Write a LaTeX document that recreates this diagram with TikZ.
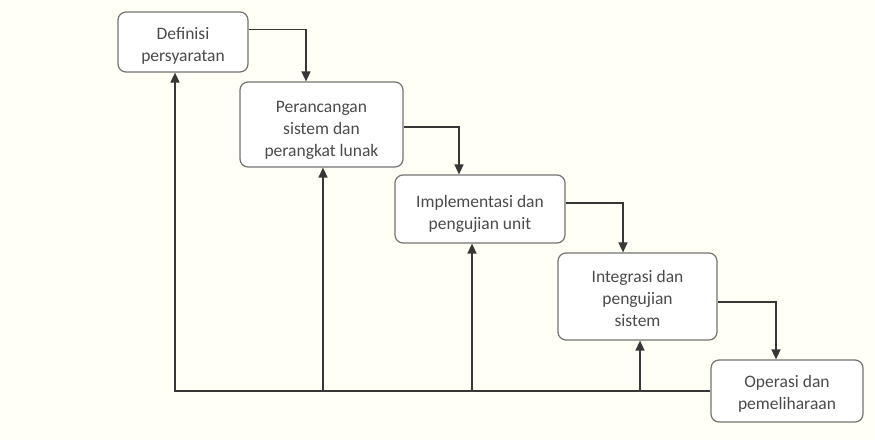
\documentclass[tikz,border=0pt]{standalone}
\usepackage{fontspec}
\setmainfont{Carlito}
\usetikzlibrary{arrows.meta}
\definecolor{paper}{RGB}{255,255,246}
\definecolor{boxline}{RGB}{115,115,115}
\definecolor{txt}{RGB}{75,75,75}
\definecolor{wire}{RGB}{55,55,55}
% pushes the text block of a box down by #1 (half of the extra strut height)
\newcommand{\lowerby}[1]{\rule{0pt}{\dimexpr 13pt+2\dimexpr #1pt\relax\relax}}
\begin{document}
\begin{tikzpicture}[x=1pt,y=-1pt,
  stage/.style={draw=boxline, line width=1.2pt, rounded corners=8pt, fill=white,
    align=center, text=txt, font=\fontsize{17.5}{22}\selectfont, inner sep=2pt},
  arr/.style={draw=wire, line width=1.4pt, -{Triangle[length=10pt,width=9pt]}}]
  % page
  \fill[paper] (0,0) rectangle (875,440);
  \useasboundingbox (0,0) rectangle (875,440);

  % stages of the process
  \node[stage, minimum width=130pt, minimum height=60pt] (b1) at (183,42) {\lowerby{3}Definisi\\persyaratan};
  \node[stage, minimum width=163pt, minimum height=85pt] (b2) at (321.5,124.5) {\lowerby{5}Perancangan\\sistem dan\\perangkat lunak};
  \node[stage, minimum width=170pt, minimum height=68pt] (b3) at (480,209) {\lowerby{4}Implementasi dan\\pengujian unit};
  \node[stage, minimum width=159pt, minimum height=87pt] (b4) at (637.5,296.5) {\lowerby{2}Integrasi dan\\pengujian\\sistem};
  \node[stage, minimum width=152pt, minimum height=62pt] (b5) at (787,391) {\lowerby{2}Operasi dan\\pemeliharaan};

  % forward flow
  \draw[arr] ([yshift=-18pt]b1.north east) -| ([xshift=-15.5pt]b2.north);
  \draw[arr] ([yshift=-2.5pt]b2.east) -| ([xshift=-21pt]b3.north);
  \draw[arr] ([yshift=6pt]b3.east) -| ([xshift=-14.5pt]b4.north);
  \draw[arr] ([yshift=-5.5pt]b4.east) -| ([xshift=-11pt]b5.north);

  % feedback paths
  \coordinate (base) at (b5.west);
  \coordinate (t1) at ([xshift=-8pt]b1.south);
  \coordinate (t2) at ([xshift=1.5pt]b2.south);
  \coordinate (t3) at ([xshift=-8pt]b3.south);
  \coordinate (t4) at ([xshift=2.5pt]b4.south);
  \draw[arr] (base) -| (t1);
  \draw[arr] (base -| t2) -- (t2);
  \draw[arr] (base -| t3) -- (t3);
  \draw[arr] (base -| t4) -- (t4);
\end{tikzpicture}
\end{document}
